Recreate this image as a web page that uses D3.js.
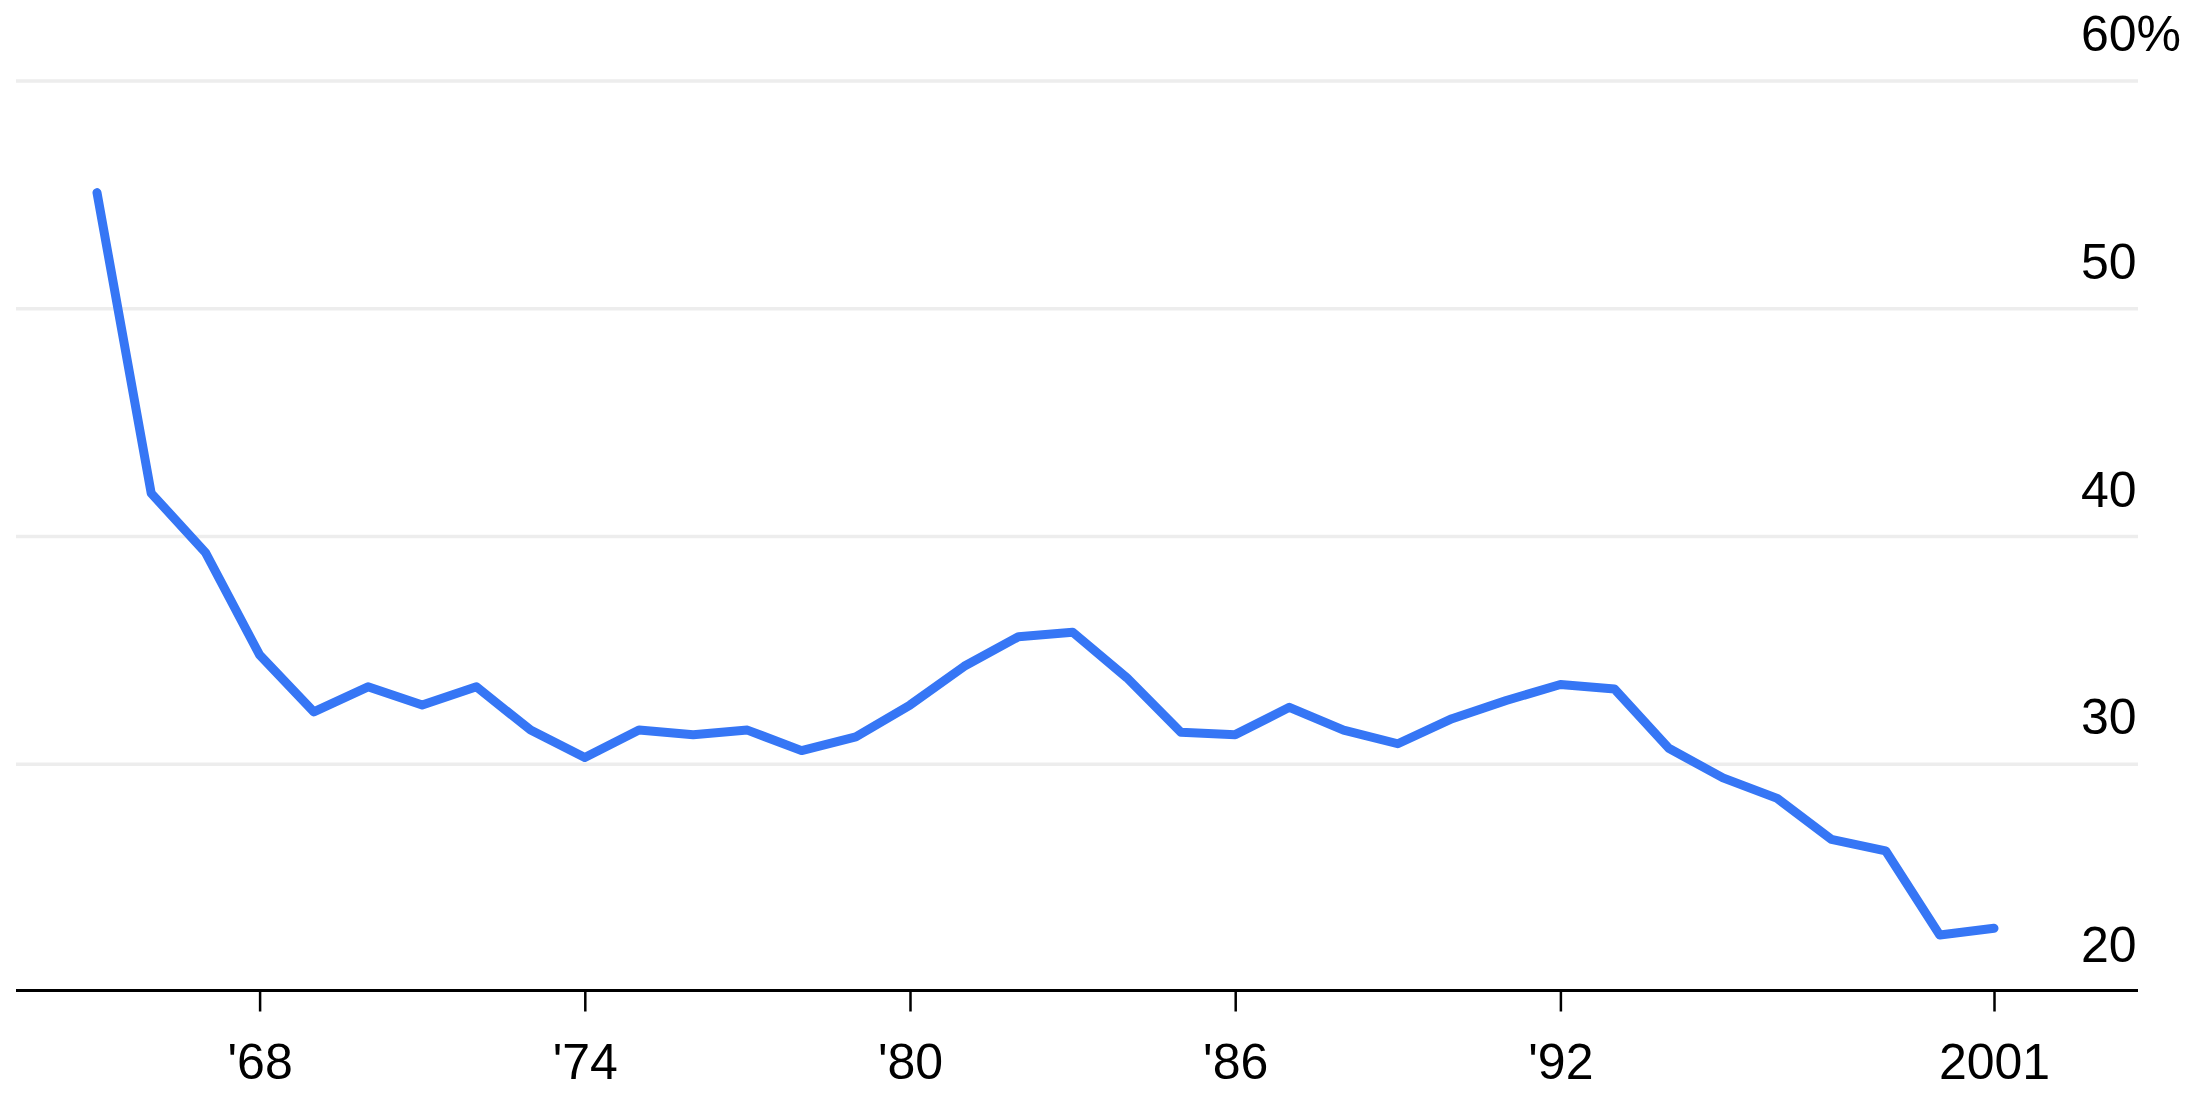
<!DOCTYPE html>
<html>
<head>
<meta charset="utf-8">
<script src="https://cdn.jsdelivr.net/npm/d3@7"></script>
<style>
  html, body { margin: 0; padding: 0; background: #fff; }
  svg { display: block; }
  text { font-family: "Liberation Sans", Arial, Helvetica, sans-serif; fill: #000; }
</style>
</head>
<body>
<script>
const years = [1965,1966,1967,1968,1969,1970,1971,1972,1973,1974,1975,1976,1977,1978,1979,1980,1981,1982,1983,1984,1985,1986,1987,1988,1989,1990,1991,1992,1993,1994,1995,1996,1997,1998,1999,2000];
const values = [55.1,41.9,39.3,34.8,32.3,33.4,32.6,33.4,31.5,30.3,31.5,31.3,31.5,30.6,31.2,32.6,34.3,35.6,35.8,33.8,31.4,31.3,32.5,31.5,30.9,32.0,32.8,33.5,33.3,30.7,29.4,28.5,26.7,26.2,22.5,22.8];
const xTickValues = [1968,1974,1980,1986,1992,2000];
const xTickLabels = ["'68","'74","'80","'86","'92","2001"];
const yTickValues = [20,30,40,50,60];
const yTickLabels = ["20","30","40","50","60%"];

const W = 2200, H = 1112;
const svg = d3.select("body").append("svg").attr("width", W).attr("height", H);
svg.append("rect").attr("width", W).attr("height", H).attr("fill", "#fff");

const x = d3.scaleLinear().domain([1965, 2000]).range([97, 1994]);
const y = d3.scaleLinear().domain([20, 60]).range([992, 81]);
const left = 16, right = 2138;

// gridlines
svg.append("g").selectAll("line").data(yTickValues.filter(v => v > 20)).join("line")
  .attr("x1", left).attr("x2", right)
  .attr("y1", d => y(d)).attr("y2", d => y(d))
  .attr("stroke", "#ededed").attr("stroke-width", 3.5);

// y labels
svg.append("g").selectAll("text").data(yTickValues).join("text")
  .attr("x", 2081).attr("y", d => y(d) - 30)
  .attr("font-size", 50)
  .text((d, i) => yTickLabels[i]);

// x axis
const xAxis = d3.axisBottom(x).tickValues(xTickValues)
  .tickFormat((d, i) => xTickLabels[i]).tickSize(21).tickPadding(0);
const gx = svg.append("g").attr("transform", `translate(0,${y(20) - 1.5})`).call(xAxis);
gx.select(".domain").remove();
gx.selectAll(".tick line").attr("stroke", "#000").attr("stroke-width", 2.5);
gx.selectAll(".tick text").attr("font-size", 50).attr("dy", null).attr("y", 88)
  .attr("font-family", '"Liberation Sans", Arial, Helvetica, sans-serif').attr("fill", "#000");
svg.append("line").attr("x1", left).attr("x2", right)
  .attr("y1", y(20) - 1.5).attr("y2", y(20) - 1.5)
  .attr("stroke", "#000").attr("stroke-width", 3);

// line
const line = d3.line().x((d, i) => x(years[i])).y(d => y(d));
svg.append("path").datum(values)
  .attr("d", line)
  .attr("fill", "none")
  .attr("stroke", "#3676f5")
  .attr("stroke-width", 9)
  .attr("stroke-linecap", "round")
  .attr("stroke-linejoin", "round");
</script>
</body>
</html>
